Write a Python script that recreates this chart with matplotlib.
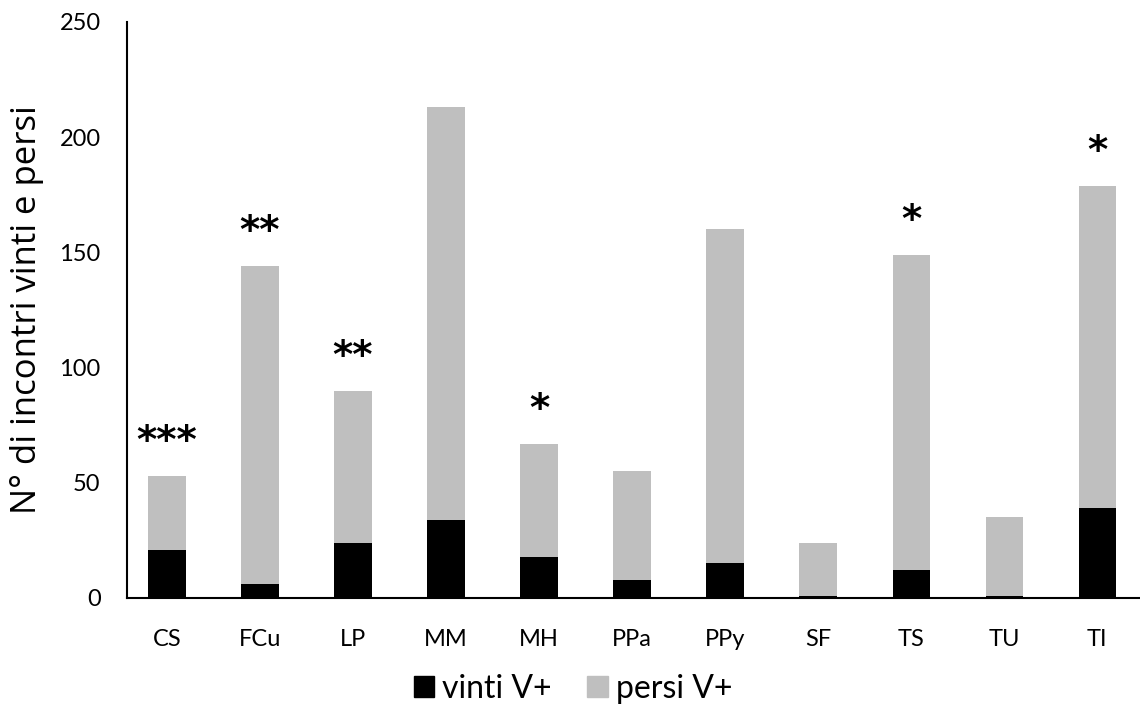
import matplotlib
matplotlib.use("Agg")
import matplotlib.pyplot as plt
from matplotlib.patches import Patch

categories = ["CS", "FCu", "LP", "MM", "MH", "PPa", "PPy", "SF", "TS", "TU", "TI"]
vinti = [21, 6, 24, 34, 18, 8, 15, 1, 12, 1, 39]
persi = [32, 138, 66, 179, 49, 47, 145, 23, 137, 34, 140]
stars = ["***", "**", "**", "", "*", "", "", "", "*", "", "*"]
y_ticks = [0, 50, 100, 150, 200, 250]

BLACK = "#000000"
GREY = "#BFBFBF"
TICK_FONT = "Lato"

fig = plt.figure(figsize=(11.4, 7.11), dpi=100)
ax = fig.add_axes([127 / 1140, 1 - 598 / 711, (1139 - 127) / 1140, (598 - 22) / 711])

x = list(range(len(categories)))
width = 0.4
ax.bar(x, vinti, width=width, color=BLACK, label="vinti V+", zorder=2)
ax.bar(x, persi, width=width, bottom=vinti, color=GREY, label="persi V+", zorder=2)

# significance marks above each stacked bar
for xi, v, p, s in zip(x, vinti, persi, stars):
    if s:
        ax.text(xi, v + p + 10, s, ha="center", va="baseline",
                fontsize=28, fontfamily="DejaVu Sans", fontweight="bold")

ax.set_xlim(-0.43, 10.45)
ax.set_ylim(0, 250)
ax.set_yticks(y_ticks)
ax.set_xticks(x)
ax.set_xticklabels(categories)
ax.tick_params(axis="both", length=0, labelsize=17)
ax.tick_params(axis="y", pad=19)
ax.tick_params(axis="x", pad=22)
for lbl in ax.get_xticklabels() + ax.get_yticklabels():
    lbl.set_fontfamily(TICK_FONT)

for side in ("top", "right"):
    ax.spines[side].set_visible(False)
ax.spines["left"].set_linewidth(1.5)
ax.spines["bottom"].set_linewidth(1.5)
ax.spines["left"].set_color(BLACK)
ax.spines["bottom"].set_color(BLACK)

ax.set_ylabel("N° di incontri vinti e persi", fontsize=25, fontfamily="Open Sans")
ax.yaxis.set_label_coords(-0.082, 0.5)

handles = [Patch(color=BLACK, label="vinti V+"), Patch(color=GREY, label="persi V+")]
fig.legend(handles=handles, loc="center", bbox_to_anchor=(573 / 1140, 1 - 689 / 711),
           ncol=2, frameon=False, prop={"family": TICK_FONT, "size": 23},
           handlelength=0.65, handleheight=0.65, handletextpad=0.25, columnspacing=1.1)

fig.savefig("out.png", dpi=100)
